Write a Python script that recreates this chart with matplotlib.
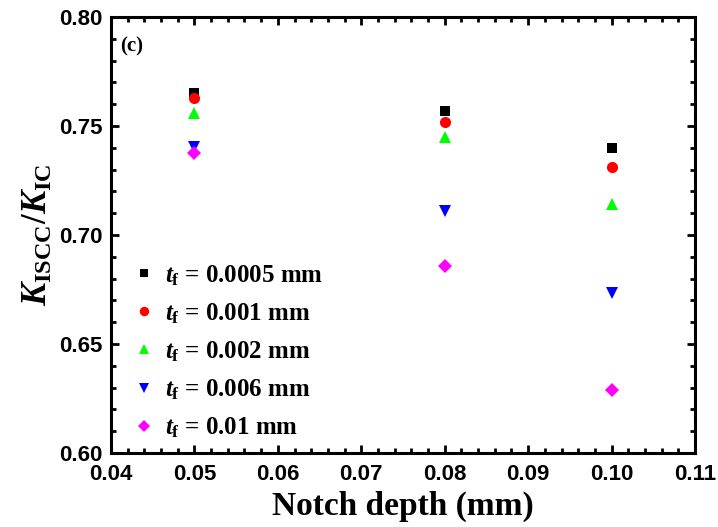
import matplotlib
matplotlib.use("Agg")
import matplotlib.pyplot as plt
from matplotlib.ticker import MultipleLocator

# data
notch_depth = [0.05, 0.08, 0.10]
k_0005 = [0.765, 0.757, 0.740]
k_001 = [0.7627, 0.7518, 0.731]
k_002 = [0.7558, 0.7448, 0.7143]
k_006 = [0.7405, 0.711, 0.6735]
k_01 = [0.7378, 0.686, 0.629]

labels = ["0.0005", "0.001", "0.002", "0.006", "0.01"]
series = [k_0005, k_001, k_002, k_006, k_01]
markers = ["s", "o", "^", "v", "D"]
colors = ["black", "red", "#00ff00", "blue", "magenta"]
sizes = [7, 8, 9, 9, 7]

plt.rcParams["mathtext.fontset"] = "custom"
plt.rcParams["mathtext.rm"] = "Liberation Serif:bold"
plt.rcParams["mathtext.it"] = "Liberation Serif:italic:bold"
plt.rcParams["mathtext.bf"] = "Liberation Serif:bold"

fig = plt.figure(figsize=(7.18, 5.27), dpi=100)
ax = fig.add_axes([0.1546, 0.1404, 0.968 - 0.1546, 0.9677 - 0.1404])

for y, lab, m, c, s in zip(series, labels, markers, colors, sizes):
    ax.plot(notch_depth, y, linestyle="none", marker=m, color=c, markersize=s,
            markeredgewidth=0, label=r"$t_{\rm f}$ = " + lab + " mm")

ax.set_xlim(0.04, 0.11)
ax.set_ylim(0.60, 0.80)
ax.xaxis.set_major_locator(MultipleLocator(0.01))
ax.xaxis.set_minor_locator(MultipleLocator(0.002))
ax.yaxis.set_major_locator(MultipleLocator(0.05))
ax.yaxis.set_minor_locator(MultipleLocator(0.01))
ax.xaxis.set_major_formatter(plt.FormatStrFormatter("%.2f"))
ax.yaxis.set_major_formatter(plt.FormatStrFormatter("%.2f"))

ax.tick_params(which="both", direction="in", top=True, right=True, width=2)
ax.tick_params(which="major", length=6)
ax.tick_params(which="minor", length=3.5)
ax.tick_params(axis="x", which="major", pad=8)
ax.tick_params(axis="y", which="major", pad=6)
for sp in ax.spines.values():
    sp.set_linewidth(2.2)
for t in ax.get_xticklabels() + ax.get_yticklabels():
    t.set_fontfamily("Liberation Sans")
    t.set_fontweight("bold")
    t.set_fontsize(16)

ax.set_xlabel("Notch depth (mm)", family="Liberation Serif", weight="bold", fontsize=24)
ax.set_ylabel(r"$K_{\rm ISCC}/K_{\rm IC}$", fontsize=25)
ax.yaxis.set_label_coords(-0.097, 0.5)
ax.text(0.015, 0.955, "(c)", transform=ax.transAxes, family="Liberation Serif",
        weight="bold", fontsize=15, va="top")

leg = ax.legend(loc="lower left", bbox_to_anchor=(0.0, -0.016), frameon=False,
                prop={"family": "Liberation Serif", "weight": "bold", "size": 18},
                handlelength=1.0, handletextpad=0.35, labelspacing=0.54,
                borderaxespad=0.4, markerscale=0.85)

fig.savefig("out.png", dpi=100)
